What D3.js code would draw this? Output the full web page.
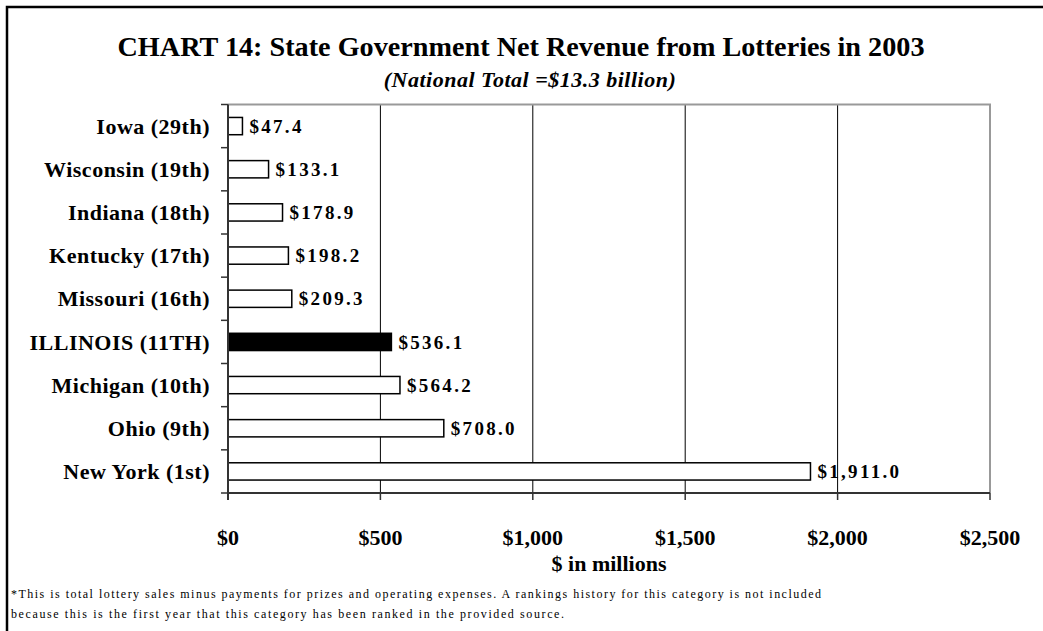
<!DOCTYPE html>
<html>
<head>
<meta charset="utf-8">
<script src="https://cdn.jsdelivr.net/npm/d3@7/dist/d3.min.js"></script>
<style>
html,body{margin:0;padding:0;background:#fff;}
svg{display:block;font-family:"Liberation Serif","Times New Roman",serif;}
</style>
</head>
<body>
<svg id="chart" width="1043" height="631"></svg>
<script>
const categories = ["Iowa (29th)","Wisconsin (19th)","Indiana (18th)","Kentucky (17th)","Missouri (16th)","ILLINOIS (11TH)","Michigan (10th)","Ohio (9th)","New York (1st)"];
const values = [47.4,133.1,178.9,198.2,209.3,536.1,564.2,708.0,1911.0];
const highlight = ["ILLINOIS (11TH)"];
const xTicks = [0,500,1000,1500,2000,2500];
const titleText = "CHART 14: State Government Net Revenue from Lotteries in 2003";
const subtitleText = "(National Total =$13.3 billion)";
const xAxisTitle = "$ in millions";
const footnote = ["*This is total lottery sales minus payments for prizes and operating expenses.  A rankings history for this category is not included",
                  "because this is the first year that this category has been ranked in the provided source."];

const svg = d3.select("#chart");
const W = 1043, H = 631;
const m = {left:228, right:990, top:104.5, bottom:493};

// outer frame (top & left visible)
svg.append("path").attr("d",`M7,${H+5} L7,7 L${W+5},7`).attr("fill","none").attr("stroke","#000").attr("stroke-width",2.5);

const x = d3.scaleLinear().domain([0,2500]).range([m.left,m.right]);
const y = d3.scaleBand().domain(categories).range([m.top,m.bottom]).paddingInner(0.6).paddingOuter(0.3);

// gridlines
svg.append("g").selectAll("line").data(xTicks.filter(t=>t>0 && t<2500)).join("line")
  .attr("x1",d=>x(d)).attr("x2",d=>x(d)).attr("y1",m.top).attr("y2",m.bottom)
  .attr("stroke","#000").attr("stroke-width",1);
// plot border top/right
svg.append("path").attr("d",`M${m.left},${m.top} L${x(2500)},${m.top} L${x(2500)},${m.bottom}`)
  .attr("fill","none").attr("stroke","#999").attr("stroke-width",2);

// bars
const data = categories.map((c,i)=>({c, v:values[i]}));
svg.append("g").selectAll("rect").data(data).join("rect")
  .attr("x",x(0)).attr("y",d=>y(d.c)).attr("width",d=>x(d.v)-x(0)).attr("height",y.bandwidth())
  .attr("fill",d=>highlight.includes(d.c)?"#000":"#fff")
  .attr("stroke","#000").attr("stroke-width",1.5);

// value labels
const fmt = d3.format(",.1f");
svg.append("g").selectAll("text").data(data).join("text")
  .attr("x",d=>x(d.v)+7).attr("y",d=>y(d.c)+y.bandwidth()/2).attr("dy","0.35em")
  .attr("font-size",19).attr("font-weight","bold").attr("letter-spacing",2.3)
  .text(d=>"$"+fmt(d.v));

// axes lines
svg.append("line").attr("x1",m.left).attr("x2",m.left).attr("y1",m.top).attr("y2",m.bottom+7)
  .attr("stroke","#333").attr("stroke-width",2);
svg.append("line").attr("x1",m.left).attr("x2",x(2500)).attr("y1",m.bottom).attr("y2",m.bottom)
  .attr("stroke","#333").attr("stroke-width",2);

// y ticks at band boundaries
const step = y.step();
const bounds = categories.map(c=>y(c)+y.bandwidth()/2-step/2).concat([m.bottom]);
svg.append("g").selectAll("line").data(bounds).join("line")
  .attr("x1",m.left-7).attr("x2",m.left).attr("y1",d=>d).attr("y2",d=>d)
  .attr("stroke","#333").attr("stroke-width",1.5);
// x ticks
svg.append("g").selectAll("line").data(xTicks).join("line")
  .attr("x1",d=>x(d)).attr("x2",d=>x(d)).attr("y1",m.bottom).attr("y2",m.bottom+7)
  .attr("stroke","#333").attr("stroke-width",1.5);

// y labels
svg.append("g").selectAll("text").data(categories).join("text")
  .attr("x",m.left-18).attr("y",d=>y(d)+y.bandwidth()/2).attr("dy","0.35em")
  .attr("text-anchor","end").attr("font-size",22).attr("font-weight","bold")
  .attr("letter-spacing",0.5)
  .text(d=>d);

// x tick labels
svg.append("g").selectAll("text").data(xTicks).join("text")
  .attr("x",d=>x(d)).attr("y",537).attr("dy","0.35em")
  .attr("text-anchor","middle").attr("font-size",22).attr("font-weight","bold")
  .text(d=>"$"+d3.format(",")(d));

// axis title
svg.append("text").attr("x",(m.left+m.right)/2).attr("y",563).attr("dy","0.35em")
  .attr("text-anchor","middle").attr("font-size",22).attr("font-weight","bold").text(xAxisTitle);

// title
svg.append("text").attr("x",521).attr("y",56).attr("text-anchor","middle")
  .attr("font-size",27).attr("font-weight","bold").attr("textLength",807).attr("lengthAdjust","spacingAndGlyphs")
  .text(titleText);
svg.append("text").attr("x",530).attr("y",87).attr("text-anchor","middle")
  .attr("font-size",22).attr("font-weight","bold").attr("font-style","italic").attr("letter-spacing",0.5)
  .text(subtitleText);

// footnote
const fnLen = [810, 553];
svg.append("g").selectAll("text").data(footnote).join("text")
  .attr("x",11).attr("y",(d,i)=>598+i*19.5).attr("font-size",12)
  .attr("textLength",(d,i)=>fnLen[i]).attr("lengthAdjust","spacing")
  .text(d=>d);
</script>
</body>
</html>
